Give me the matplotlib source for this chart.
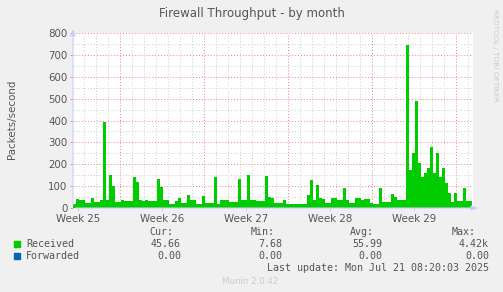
import numpy as np
import matplotlib
matplotlib.use('Agg')
import matplotlib.pyplot as plt

# Received packets/second, one sample every 6 hours (0.25 day)
received = [
    20, 40, 35, 35, 24, 24, 45, 28, 28, 36,
    395, 36, 150, 100, 28, 28, 36, 32, 32, 32,
    143, 120, 36, 30, 38, 30, 32, 32, 131, 97,
    36, 36, 20, 20, 32, 45, 24, 24, 60, 36,
    36, 20, 20, 55, 24, 24, 24, 143, 20, 36,
    36, 36, 28, 28, 28, 131, 36, 36, 150, 36,
    36, 30, 30, 30, 146, 50, 45, 24, 24, 24,
    36, 20, 20, 20, 20, 20, 20, 20, 60, 128,
    36, 105, 48, 40, 24, 24, 45, 45, 36, 36,
    91, 36, 24, 24, 47, 47, 36, 40, 40, 24,
    20, 20, 91, 28, 28, 28, 64, 50, 36, 36,
    36, 745, 174, 250, 490, 205, 142, 160, 185, 280,
    160, 250, 142, 183, 114, 68, 29, 68, 30, 30,
    91, 30, 30, 45,
]
forwarded = [0.0] * len(received)
step = 0.25
week_labels = ['Week 25', 'Week 26', 'Week 27', 'Week 28', 'Week 29']
legend_names = ['Received', 'Forwarded']
legend_cur = ['45.66', '0.00']
legend_min = ['7.68', '0.00']
legend_avg = ['55.99', '0.00']
legend_max = ['4.42k', '0.00']

W, H = 503, 292
bg = '#f0f0f0'
txt = '#555555'
green = '#00cc00'
blue = '#0066b3'

fig = plt.figure(figsize=(W / 100, H / 100), dpi=100, facecolor=bg)
ax = fig.add_axes([73 / W, (H - 208) / H, 400 / W, 175 / H])
ax.set_facecolor('white')

x = np.arange(len(received)) * step
ax.fill_between(x, 0, received, step='post', color=green, linewidth=0, zorder=3)
ax.plot(x, forwarded, color=blue, linewidth=0.8, zorder=4)

xmax = 400 / 12
ax.set_xlim(0, xmax)
ax.set_ylim(0, 800)

# grid
grid_dots = (0, (1, 2))
for d in np.arange(0.92, xmax, 1.0):
    is_week = abs(((d - 3.92) / 7) - round((d - 3.92) / 7)) < 0.01
    ax.axvline(d, color='#f08080' if is_week else '#cccccc',
               linestyle=grid_dots, linewidth=0.7, zorder=1 if not is_week else 2)
for v in range(50, 801, 50):
    major = v % 100 == 0
    ax.axhline(v, color='#f08080' if major else '#cccccc',
               linestyle=grid_dots, linewidth=0.7, zorder=2 if major else 1)

ax.set_yticks(range(0, 801, 100))
ax.set_yticklabels([str(v) for v in range(0, 801, 100)])
ax.set_xticks([0.42 + 7 * k for k in range(len(week_labels))])
ax.set_xticklabels(week_labels)
ax.tick_params(axis='both', colors=txt, labelsize=7.4, length=2, width=0.6, pad=2)
ax.tick_params(axis='y', color='#f08080')
ax.tick_params(axis='x', color='#cccccc')
for s in ax.spines.values():
    s.set_visible(False)

# axis arrows
ax.annotate('', xy=(0, 1.04), xytext=(0, 0), xycoords='axes fraction',
            arrowprops=dict(arrowstyle='-|>,head_width=0.15,head_length=0.4',
                            color='#ccccff', lw=0.8), zorder=5, annotation_clip=False)
ax.annotate('', xy=(1.02, 0), xytext=(0, 0), xycoords='axes fraction',
            arrowprops=dict(arrowstyle='-|>,head_width=0.15,head_length=0.4',
                            color='#ccccff', lw=0.8), zorder=5, annotation_clip=False)

fig.text(252 / W, 1 - 13 / H, 'Firewall Throughput - by month', ha='center', va='center',
         fontsize=8.5, color=txt)
fig.text(12 / W, 1 - 119 / H, 'Packets/second', rotation=90, ha='center', va='center',
         fontsize=7.4, color=txt)
fig.text(495 / W, 1 - 55 / H, 'RRDTOOL / TOBI OETIKER', rotation=270, ha='center',
         va='center', fontsize=5.2, color='#cccccc')

mono = 'DejaVu Sans Mono'
fs = 7.2
def row(y, items):
    for xr, s in items:
        fig.text(xr / W, 1 - y / H, s, ha='right', va='center', family=mono,
                 fontsize=fs, color=txt)

row(232, [(173, 'Cur:'), (275, 'Min:'), (374, 'Avg:'), (476, 'Max:')])
for i, (name, col) in enumerate(zip(legend_names, [green, blue])):
    y = 244 + 12 * i
    fig.patches.append(plt.Rectangle((14 / W, 1 - (y + 3) / H), 6 / W, 6 / H,
                                     transform=fig.transFigure, color=col))
    fig.text(26 / W, 1 - y / H, name, ha='left', va='center', family=mono,
             fontsize=fs, color=txt)
    row(y, [(181, legend_cur[i]), (282, legend_min[i]), (382, legend_avg[i]),
            (489, legend_max[i])])
row(268, [(489, 'Last update: Mon Jul 21 08:20:03 2025')])
fig.text(250 / W, 1 - 281 / H, 'Munin 2.0.42', ha='center', va='center',
         fontsize=6.2, color='#cccccc')

fig.savefig('out.png', dpi=100, facecolor=bg)
